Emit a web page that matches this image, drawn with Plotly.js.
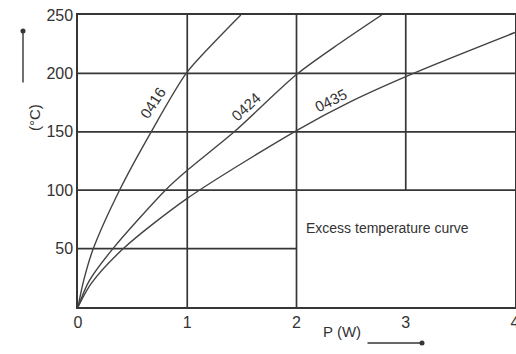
<!DOCTYPE html>
<html><head><meta charset="utf-8">
<script src="https://cdn.plot.ly/plotly-3.0.1.min.js"></script>
<style>html,body{margin:0;padding:0;background:#fff}#c{width:516px;height:354px}</style>
</head><body><div id="c"></div>
<script>
// data
const p0416 = [0, 0.05, 0.14, 0.38, 0.67, 0.99, 1.24, 1.49];
const t0416 = [0, 22, 50, 100, 150, 200, 226, 250];
const p0424 = [0, 0.1, 0.32, 0.8, 1.0, 1.43, 2.0, 2.4, 2.78];
const t0424 = [0, 22, 50, 100, 117, 150, 199, 226, 250];
const p0435 = [0, 0.12, 0.415, 1.0, 2.0, 2.5, 3.07, 4.0];
const t0435 = [0, 20, 50, 93, 151, 176, 200, 235];
const seriesNames = ['0416', '0424', '0435'];
const xTicks = [0, 1, 2, 3, 4];
const yTicks = [50, 100, 150, 200, 250];
const noteText = 'Excess temperature curve';

const ink = '#363636';
const curve = {color: '#444', width: 1.4, shape: 'spline', smoothing: 0.8};
const traces = [[p0416, t0416], [p0424, t0424], [p0435, t0435]].map((d, i) => ({
  type: 'scatter', mode: 'lines', x: d[0], y: d[1], name: seriesNames[i],
  line: curve, hoverinfo: 'skip', cliponaxis: true
}));

// partial grid segments (axis units)
const gridH = [[50, 0, 2], [100, 0, 4], [150, 0, 4], [200, 0, 4]];
const gridV = [[1, 0, 250], [2, 0, 250], [3, 100, 250]];
const gl = {color: ink, width: 1.7};
const shapes = [];
gridH.forEach(g => shapes.push({type: 'line', xref: 'x', yref: 'y', x0: g[1], x1: g[2], y0: g[0], y1: g[0], line: gl, layer: 'below'}));
gridV.forEach(g => shapes.push({type: 'line', xref: 'x', yref: 'y', x0: g[0], x1: g[0], y0: g[1], y1: g[2], line: gl, layer: 'below'}));

const fam = 'Liberation Sans, Arial, sans-serif';
const lf = {family: fam, size: 15, color: '#333'};
const W = 516, H = 354, m = {l: 78, r: 1, t: 15, b: 47};
const pw = W - m.l - m.r, ph = H - m.t - m.b;
function px(x) { return (x - m.l) / pw; }
function py(y) { return (H - m.b - y) / ph; }
const annotations = [
  {x: 0.686, y: 175, xref: 'x', yref: 'y', text: seriesNames[0], showarrow: false, textangle: -57, font: lf},
  {x: 1.537, y: 172, xref: 'x', yref: 'y', text: seriesNames[1], showarrow: false, textangle: -43, font: lf},
  {x: 2.31, y: 177, xref: 'x', yref: 'y', text: seriesNames[2], showarrow: false, textangle: -26, font: lf},
  {x: 2.83, y: 68, xref: 'x', yref: 'y', text: noteText, showarrow: false, font: {family: fam, size: 14, color: '#333'}},
  {x: px(24), y: py(102), xref: 'paper', yref: 'paper', text: '(°C)', showarrow: false, textangle: -90,
   font: {family: fam, size: 15, color: '#333'}},
  {x: px(342), y: py(342), xref: 'paper', yref: 'paper', text: 'P (W)', showarrow: false,
   font: {family: fam, size: 15, color: '#333'}},
  {xref: 'paper', yref: 'paper', x: px(23), y: py(31), ax: px(23), ay: py(84),
   axref: 'paper', ayref: 'paper', text: '', showarrow: true, arrowhead: 6, arrowsize: 0.9, arrowwidth: 1.4, arrowcolor: ink},
  {xref: 'paper', yref: 'paper', x: px(422), y: py(343), ax: px(366), ay: py(343),
   axref: 'paper', ayref: 'paper', text: '', showarrow: true, arrowhead: 6, arrowsize: 0.9, arrowwidth: 1.4, arrowcolor: ink}
];

const tf = {family: fam, size: 16, color: '#333'};
const layout = {
  width: W, height: H, margin: m, showlegend: false,
  paper_bgcolor: '#fff', plot_bgcolor: '#fff',
  xaxis: {range: [0, 4], tickvals: xTicks, ticktext: xTicks.map(String), showgrid: false, zeroline: false,
    showline: true, mirror: true, linecolor: ink, linewidth: 1.7, ticks: '', tickfont: tf, fixedrange: true,
    ticklabeloverflow: 'allow'},
  yaxis: {range: [0, 250], tickvals: yTicks, ticktext: yTicks.map(String), showgrid: false, zeroline: false,
    showline: true, mirror: true, linecolor: ink, linewidth: 1.7, ticks: '', tickfont: tf, fixedrange: true},
  shapes: shapes, annotations: annotations
};
Plotly.newPlot('c', traces, layout, {displayModeBar: false, staticPlot: true});
</script></body></html>
